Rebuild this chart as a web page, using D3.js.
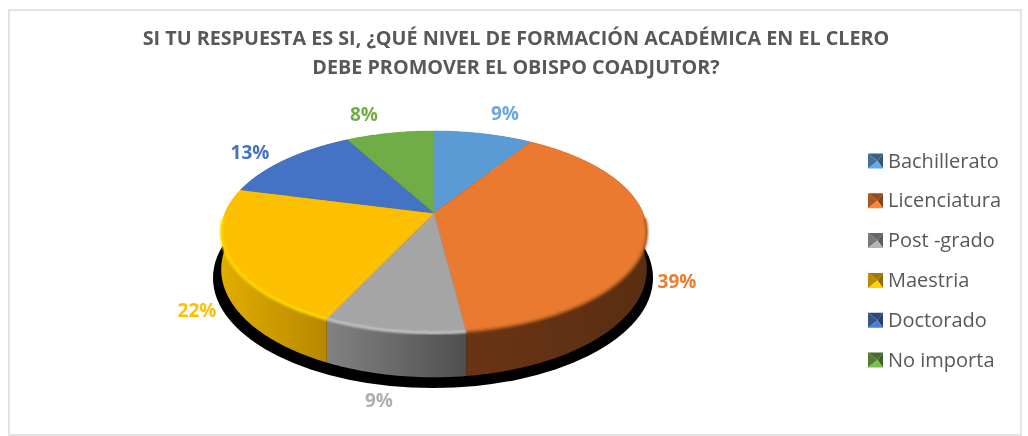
<!DOCTYPE html>
<html><head><meta charset="utf-8">
<script src="https://cdn.jsdelivr.net/npm/d3@7"></script>
<style>html,body{margin:0;padding:0;background:#fff;overflow:hidden}svg{display:block}</style>
</head><body><svg id="c" width="1028" height="436"></svg>
<script>
const titleLines = ["SI TU RESPUESTA ES SI, ¿QUÉ NIVEL DE FORMACIÓN ACADÉMICA EN EL CLERO", "DEBE PROMOVER EL OBISPO COADJUTOR?"];
const categories = ["Bachillerato", "Licenciatura", "Post -grado", "Maestria", "Doctorado", "No importa"];
const values = [9, 39, 9, 22, 13, 8];
const colours = ["#5b9bd5", "#e97a30", "#a5a5a5", "#fdc000", "#4472c4", "#70ad47"];
const labelColours = ["#6ea6da", "#ed7d31", "#afafaf", "#ffc000", "#4472c4", "#70ad47"];
const sideLeft = ["#3c6a94", "#6a3414", "#828282", "#e2ac00", "#2f4f88", "#4e7a31"];
const sideRight = ["#2f5578", "#5a2e12", "#4f4f4f", "#b68800", "#2a4677", "#446b2b"];
const rimColours = ["#8fbce6", "#a9591f", "#c8c8c8", "#ffe000", "#7097dc", "#9ad070"];
const labelAnchors = [[505,114],[677,282],[379,401],[197,311],[250,153],[364,115]];

const svg = d3.select("#c");
const defs = svg.append("defs");
defs.append("filter").attr("id","soft").append("feGaussianBlur").attr("stdDeviation",0.9);
const textBlur = defs.append("filter").attr("id","tb");
textBlur.append("feGaussianBlur").attr("stdDeviation",0.35);

// frame
svg.append("rect").attr("x",9).attr("y",10).attr("width",1012).attr("height",425)
  .attr("fill","#fff").attr("stroke","#e3e3e3").attr("stroke-width",2);

// title
svg.append("g").attr("filter","url(#tb)").selectAll("text").data(titleLines).join("text")
  .attr("x",516).attr("y",(d,i)=>44.5+i*29.5).attr("text-anchor","middle")
  .attr("font-family","'Open Sans'").attr("font-weight",700).attr("font-size",19.75)
  .attr("fill","#595959").text(d=>d);

// perspective disk
const cx=434, apexY=213, R=209, persp=0.188, ky=97.4, depth=36;
const project=(a,z)=>{ // a: clockwise from 12 o'clock, z: 0 top face, 1 bottom face
  const x=Math.sin(a), y=-Math.cos(a), w=1/(1-persp*y);
  return [cx+R*x*w, apexY+ky*y*w+z*depth*w];
};
const arcPts=(a0,a1,z)=>{
  const n=Math.max(2,Math.ceil((a1-a0)/0.01));
  return d3.range(n+1).map(i=>project(a0+(a1-a0)*i/n,z));
};
const line=d3.line().curve(d3.curveLinear);
const arcs=d3.pie().sort(null)(values);

// shadow
svg.append("ellipse").attr("cx",433).attr("cy",278).attr("rx",220).attr("ry",110).attr("fill","#000");

// side wall
arcs.forEach((d,i)=>{
  const top=arcPts(d.startAngle,d.endAngle,0), bot=arcPts(d.startAngle,d.endAngle,1).reverse();
  const vis=top.filter((p,k)=>Math.cos(d.startAngle+(d.endAngle-d.startAngle)*k/(top.length-1))<0.2);
  const ext=d3.extent(vis.length?vis:top,p=>p[0]);
  const g=defs.append("linearGradient").attr("id","side"+i).attr("gradientUnits","userSpaceOnUse")
    .attr("x1",ext[0]).attr("x2",ext[1]).attr("y1",0).attr("y2",0);
  g.append("stop").attr("offset",0).attr("stop-color",sideLeft[i]);
  g.append("stop").attr("offset",1).attr("stop-color",sideRight[i]);
  svg.append("path").attr("d",line(top.concat(bot))+"Z").attr("fill",`url(#side${i})`);
});

// top face
arcs.forEach((d,i)=>{
  svg.append("path").attr("d",line([[cx,apexY]].concat(arcPts(d.startAngle,d.endAngle,0)))+"Z")
    .attr("fill",colours[i]).attr("stroke",colours[i]).attr("stroke-width",0.5);
});

// bevelled rim on the visible front edge
arcs.forEach((d,i)=>{
  const a0=d.startAngle,a1=d.endAngle,n=Math.ceil((a1-a0)/0.01);
  const pts=d3.range(n+1).map(k=>a0+(a1-a0)*k/n).filter(a=>Math.cos(a)<-0.05).map(a=>project(a,0));
  if(pts.length>1) svg.append("path").attr("d",line(pts)).attr("fill","none")
    .attr("stroke",rimColours[i]).attr("stroke-width",2.5).attr("filter","url(#soft)");
});

// data labels
svg.append("g").attr("filter","url(#tb)").selectAll("text").data(values).join("text")
  .attr("x",(d,i)=>labelAnchors[i][0]).attr("y",(d,i)=>labelAnchors[i][1]+6)
  .attr("text-anchor","middle").attr("font-family","'Open Sans'").attr("font-weight",700)
  .attr("font-size",19).attr("fill",(d,i)=>labelColours[i]).text(d=>d+"%");

// legend
const legendY=d3.scalePoint().domain(categories).range([161,360]);
const mk=15;
const legendMarks=svg.append("g").attr("filter","url(#tb)");
categories.forEach((c,i)=>{
  const y=legendY(c), x0=868, x1=x0+mk, y0=y-mk/2, y1=y+mk/2, mx=x0+mk/2+2, my=y;
  const base=d3.color(colours[i]);
  const faces=[
    [[[x0,y0],[x1,y0],[mx,my]], base.darker(1.3)],
    [[[x0,y0],[mx,my],[x0,y1]], base.darker(0.9)],
    [[[x1,y0],[x1,y1],[mx,my]], base.darker(1.6)],
    [[[x0,y1],[x1,y1],[mx,my]], base.brighter(0.25)]
  ];
  faces.forEach(f=>legendMarks.append("path").attr("d",line(f[0])+"Z").attr("fill",f[1]));
});
svg.append("g").attr("filter","url(#tb)").selectAll("text").data(categories).join("text")
  .attr("x",888).attr("y",d=>legendY(d)+6.5)
  .attr("font-family","'Open Sans'").attr("font-size",20).attr("fill","#595959").text(d=>d);
</script></body></html>
